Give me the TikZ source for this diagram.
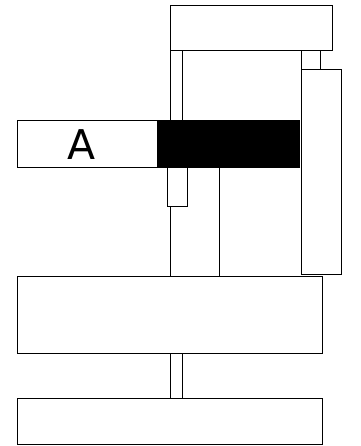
\documentclass[tikz,border=0pt]{standalone}
\usepackage{fontspec}
\setsansfont{DejaVu Sans}
\usetikzlibrary{positioning}
\tikzset{
  part/.style={draw,line width=1.2pt,inner sep=0pt,outer sep=0pt,anchor=north west,minimum width=#1},
  part/.default=10pt
}
\begin{document}
\begin{tikzpicture}[x=1pt,y=-1pt]
\useasboundingbox (0,0) rectangle (360,446);
\node (rod) [part=12pt,minimum height=70pt] at (170.2,50.2) {};
\node (link) [part=19pt,minimum height=19pt] at (301.2,50.2) {};
\node (head) [part=162pt,minimum height=45pt] at (170.2,5.2) {};
\node (arm) [part=40pt,minimum height=205pt] at (301.2,69.2) {};
\node (column) [part=49pt,minimum height=109pt] at (170.2,167.2) {};
\node (pin) [part=20pt,minimum height=39pt,fill=white] at (167.7,167.2) {};
\node (slide) [part=140pt,minimum height=47pt] at (17.4,120.2) {};
\node (block) [part=142pt,minimum height=47pt,fill=black] at (157.4,120.2) {};
\node (slidetext) [font=\sffamily\fontsize{41}{41}\selectfont,inner sep=0pt] at (81.5,145) {A};
\node (base) [part=305pt,minimum height=77pt] at (17.4,276.2) {};
\node (neck) [part=12pt,minimum height=45pt] at (170.2,353.2) {};
\node (foot) [part=305pt,minimum height=46pt] at (17.4,398.2) {};
\end{tikzpicture}
\end{document}
